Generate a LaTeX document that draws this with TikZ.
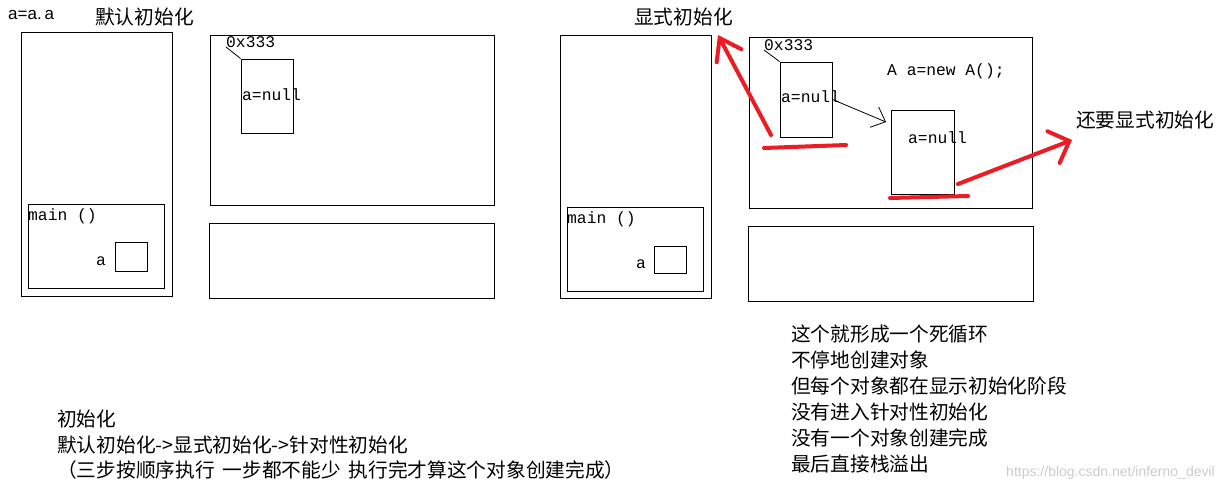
\documentclass[tikz,border=0pt]{standalone}
\usepackage{fontspec}
\setmonofont{Liberation Mono}
\newfontfamily\cjk{Noto Sans CJK SC}
\newfontfamily\lsans{Liberation Sans}
\usetikzlibrary{arrows.meta,fit}
\definecolor{paintred}{RGB}{237,28,36}
\begin{document}
\begin{tikzpicture}[x=1pt,y=-1pt,
  box/.style={draw,line width=1pt,inner sep=0pt},
  mono/.style={font=\fontsize{16.3}{19}\selectfont\ttfamily,anchor=base west,inner sep=0pt},
  cjktxt/.style={font=\fontsize{19.7}{23}\selectfont\cjk,anchor=base west,inner sep=0pt},
  redstroke/.style={draw=paintred,line width=4pt,line cap=round},
  thin/.style={draw,line width=0.8pt}]
\useasboundingbox (0,0) rectangle (1225,491);
\fill[white] (0,0) rectangle (1225,491);

% ---------- left panel ----------
\node[box,fit={(21,32)(172,296)}] (ls) {};
\node[box,fit={(28,204)(164,288)}] (lmain) {};
\node[box,fit={(115,242)(147,271)}] (la) {};
\node[box,fit={(210,35)(494,205)}] (lh) {};
\node[box,fit={(241,59)(293,133)}] (lobj) {};
\node[box,fit={(209,223)(494,298)}] (lm) {};

\node[font=\fontsize{17}{20}\selectfont\lsans,anchor=base west,inner sep=0pt] (aa) at (8,19) {a=a.\,a};
\node[cjktxt] (t1) at (95,24) {默认初始化};
\node[mono] (lmaint) at (28,220) {main ()};
\node[mono] (lat) at (96,265) {a};
\node[mono] (laddr) at (226,47) {0x333};
\node[mono] (lnull) at (242,100) {a=null};
\draw[thin] (laddr.base west) -- (lobj.north west);

% ---------- right panel ----------
\node[box,fit={(560,35)(711,298)}] (rs) {};
\node[box,fit={(567,207)(703,291)}] (rmain) {};
\node[box,fit={(654,246)(686,273)}] (ra) {};
\node[box,fit={(749,37)(1032,208)}] (rh) {};
\node[box,fit={(780,62)(832,137)}] (rb1) {};
\node[box,fit={(891,110)(954,194)}] (rb2) {};
\node[box,fit={(748,226)(1033,301)}] (rm) {};

\node[cjktxt] (t2) at (634,24) {显式初始化};
\node[cjktxt] (t3) at (1076,127) {还要显式初始化};
\node[mono] (rmaint) at (567,223) {main ()};
\node[mono] (rat) at (636,268) {a};
\node[mono] (raddr) at (764,50) {0x333};
\node[mono] (rnull1) at (781,102) {a=null};
\node[mono] (rnull2) at (908,143) {a=null};
\node[mono] (newa) at (887,75) {A a=new A();};
\draw[thin] (raddr.base west) -- (rb1.north west);
\coordinate (arrE) at (886,122);
\draw[thin,-{Straight Barb[length=12pt,width=22pt]}] (rb1.east) -- (arrE);

% red marks
\coordinate (r1s) at (771,135);
\coordinate (r1e) at (718,35);
\draw[redstroke,-{Straight Barb[length=20pt,width=28pt,line cap=round]}] (r1s) -- (r1e);
\coordinate (u1a) at (764,148);
\coordinate (u1b) at (846,145);
\draw[redstroke] (u1a) -- (u1b);
\coordinate (u2a) at (890,198);
\coordinate (u2b) at (968,196);
\draw[redstroke] (u2a) -- (u2b);
\coordinate (r2s) at (958,184);
\coordinate (r2e) at (1072,140);
\draw[redstroke,-{Straight Barb[length=17pt,width=34pt,line cap=round]}] (r2s) -- (r2e);

% ---------- texts ----------
\node[cjktxt] (b1) at (57,426) {初始化};
\node[cjktxt] (b2) at (57,452) {默认初始化->显式初始化->针对性初始化};
\node[cjktxt] (b3) at (57,477) {（三步按顺序执行\hspace{0.4em}一步都不能少\hspace{0.4em}执行完才算这个对象创建完成）};

\node[cjktxt] (c1) at (791,341) {这个就形成一个死循环};
\node[cjktxt] (c2) at (791,367) {不停地创建对象};
\node[cjktxt] (c3) at (791,393) {但每个对象都在显示初始化阶段};
\node[cjktxt] (c4) at (791,419) {没有进入针对性初始化};
\node[cjktxt] (c5) at (791,445) {没有一个对象创建完成};
\node[cjktxt] (c6) at (791,471) {最后直接栈溢出};

\node[font=\fontsize{14}{16}\selectfont\lsans,text=gray!40,anchor=base east,inner sep=0pt] (wm) at (1215,476) {https://blog.csdn.net/inferno\_devil};
\end{tikzpicture}
\end{document}
